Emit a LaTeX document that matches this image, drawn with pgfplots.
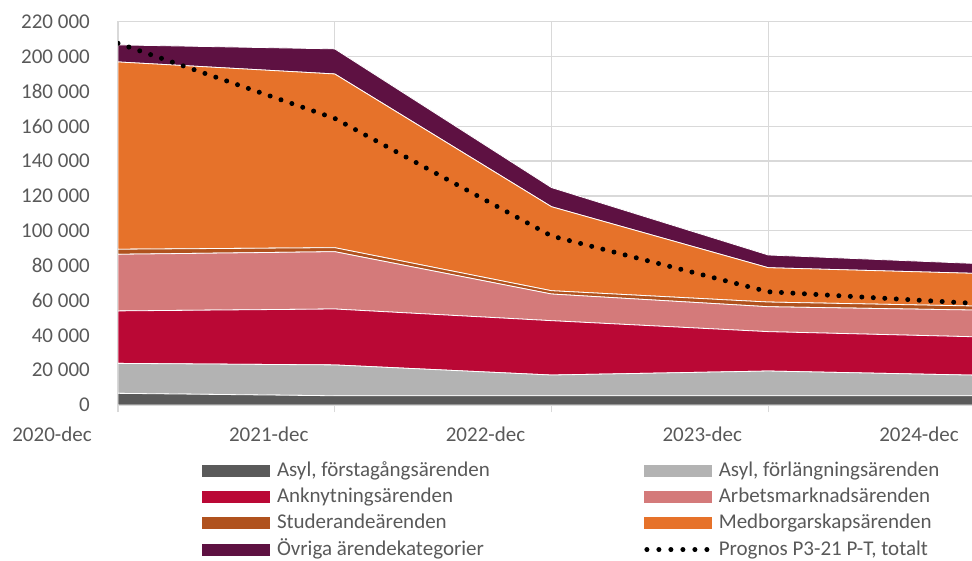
\documentclass[border=0pt]{standalone}
\usepackage{pgfplots}
\pgfplotsset{compat=1.18}
\usepackage{fontspec}
\setmainfont{Carlito}
\definecolor{cA}{HTML}{5A5A5A}
\definecolor{cB}{HTML}{B3B3B3}
\definecolor{cC}{HTML}{BA0835}
\definecolor{cD}{HTML}{D47A7A}
\definecolor{cE}{HTML}{B0521E}
\definecolor{cF}{HTML}{E6722A}
\definecolor{cG}{HTML}{5E1142}
\definecolor{gridc}{HTML}{D9D9D9}
\definecolor{tc}{HTML}{595959}
\pgfplotsset{
  areaS/.style={fill=#1, draw=white, line width=0.8bp,
    legend image code/.code={\fill[#1] (0bp,-5.5bp) rectangle (67bp,5.5bp);}},
  dotleg/.style={legend image code/.code={\path[draw=none,fill=none] (0bp,-5.5bp) rectangle (67bp,5.5bp);
    \draw[black, line width=5bp, line cap=round, dash pattern=on 0bp off 12bp] (2.5bp,0) -- (64bp,0);}},
  base/.style={at={(118bp,156bp)}, anchor=south west, scale only axis,
    width=867bp, height=383.3bp, xmin=0, xmax=4, ymin=0, ymax=220000}
}
\pgfplotstableread{
x  A     B     C     D     E    F      G
0  6700  17200 30100 32500 2900 107500 9800
1  5300  17700 32100 32900 2300 99700  14400
2  5300  11900 31200 15300 1900 48200  11000
3  5300  14200 22600 14300 2700 19700  7300
4  5300  11700 22000 15400 2300 18700  5600
}\datatable
\pgfplotstableread{
x  P
0  207600
1  164500
2  97000
3  65000
4  58000
}\progtable
\begin{document}
\begin{tikzpicture}
\begin{axis}[base,
  stack plots=y,
  font=\fontsize{21bp}{25bp}\selectfont,
  scaled y ticks=false,
  xtick={0,1,2,3,4},
  xticklabels={2020-dec,2021-dec,2022-dec,2023-dec,2024-dec},
  ytick={0,20000,40000,60000,80000,100000,120000,140000,160000,180000,200000,220000},
  yticklabels={0,20 000,40 000,60 000,80 000,100 000,120 000,140 000,160 000,180 000,200 000,220 000},
  grid=major,
  major grid style={color=gridc, line width=1.3bp},
  axis line style={color=gridc, line width=1.3bp},
  tick pos=left, tick align=outside, major tick length=7bp,
  xtick style={color=gridc, line width=1.3bp},
  ytick style={draw=none},
  ticklabel style={text=tc},
  xticklabel style={anchor=base, yshift=-29bp, xshift=-66bp},
  yticklabel style={anchor=east, inner sep=0pt, xshift=-21bp},
  legend columns=2,
  legend cell align=left,
  legend style={at={(axis description cs:0.0969,-0.146)}, anchor=north west,
    draw=none, fill=none, inner sep=0pt, row sep=7.3bp, column sep=7bp,
    text=tc, font=\fontsize{21bp}{25bp}\selectfont,
    nodes={inner sep=0pt, text height=15bp, text depth=4bp}},
]
\addplot[areaS=cA] table[x=x,y=A]{\datatable} \closedcycle;
\addlegendentry{\makebox[360bp][l]{Asyl, förstagångsärenden}}
\addplot[areaS=cB] table[x=x,y=B]{\datatable} \closedcycle;
\addlegendentry{Asyl, förlängningsärenden}
\addplot[areaS=cC] table[x=x,y=C]{\datatable} \closedcycle;
\addlegendentry{\makebox[360bp][l]{Anknytningsärenden}}
\addplot[areaS=cD] table[x=x,y=D]{\datatable} \closedcycle;
\addlegendentry{Arbetsmarknadsärenden}
\addplot[areaS=cE] table[x=x,y=E]{\datatable} \closedcycle;
\addlegendentry{\makebox[360bp][l]{Studerandeärenden}}
\addplot[areaS=cF] table[x=x,y=F]{\datatable} \closedcycle;
\addlegendentry{Medborgarskapsärenden}
\addplot[areaS=cG] table[x=x,y=G]{\datatable} \closedcycle;
\addlegendentry{\makebox[360bp][l]{Övriga ärendekategorier}}
\addlegendimage{dotleg}
\addlegendentry{Prognos P3-21 P-T, totalt}
\end{axis}
\begin{axis}[base, hide axis]
\addplot[black, line width=5bp, line cap=round, dash pattern=on 0bp off 11.5bp] table[x=x,y=P]{\progtable};
\end{axis}
\pgfresetboundingbox
\useasboundingbox (0,0) rectangle (972bp,561bp);
\end{tikzpicture}
\end{document}
